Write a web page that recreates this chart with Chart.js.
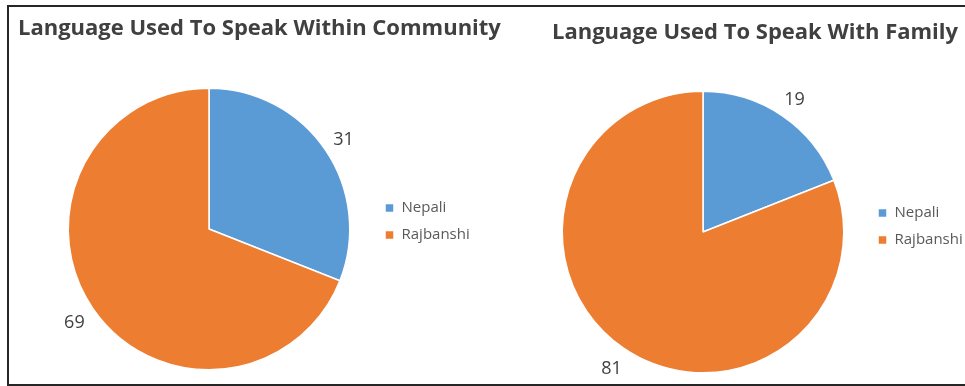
<!DOCTYPE html>
<html>
<head>
<meta charset="utf-8">
<script src="https://cdn.jsdelivr.net/npm/chart.js@4/dist/chart.umd.min.js"></script>
<style>
  html, body { margin: 0; padding: 0; background: #fff; overflow: hidden; }
  body { width: 965px; height: 386px; position: relative; font-family: "Open Sans", "DejaVu Sans", sans-serif; }
  canvas { position: absolute; top: 0; }
  #communityChart { left: 0; }
  #familyChart { left: 520px; }
  .chart-title {
    position: absolute; margin: 0; white-space: nowrap;
    font-size: 22px; line-height: 22px; font-weight: bold; color: #404040;
  }
  #communityTitle { left: 18px; top: 14.5px; }
  #familyTitle { left: 552px; top: 18.8px; }
  .frame {
    position: absolute; left: 7px; top: 5px; width: 980px; height: 377px;
    border: 2px solid #262626; border-right: none; pointer-events: none;
  }
</style>
</head>
<body>
<canvas id="communityChart" width="520" height="386"></canvas>
<canvas id="familyChart" width="460" height="386"></canvas>
<h2 class="chart-title" id="communityTitle"></h2>
<h2 class="chart-title" id="familyTitle"></h2>
<div class="frame"></div>
<script>
// survey answers (percent of respondents)
const languages = ['Nepali', 'Rajbanshi'];
const communityValues = [31, 69];
const familyValues = [19, 81];
const communityTitle = 'Language Used To Speak Within Community';
const familyTitle = 'Language Used To Speak With Family';

const sliceColors = ['#5b9bd5', '#ed7d31'];
const FONT = '"Open Sans", "DejaVu Sans", sans-serif';

document.getElementById('communityTitle').textContent = communityTitle;
document.getElementById('familyTitle').textContent = familyTitle;

// value labels just outside each slice, Excel "outside end" style
const outsideLabels = {
  id: 'outsideLabels',
  afterDatasetsDraw(chart, args, opts) {
    const { ctx } = chart;
    const meta = chart.getDatasetMeta(0);
    const values = chart.data.datasets[0].data;
    ctx.save();
    ctx.font = `${opts.size}px ${FONT}`;
    ctx.fillStyle = opts.color;
    ctx.textAlign = 'center';
    ctx.textBaseline = 'alphabetic';
    meta.data.forEach((arc, i) => {
      const { x, y, startAngle, endAngle, outerRadius } =
        arc.getProps(['x', 'y', 'startAngle', 'endAngle', 'outerRadius'], true);
      const mid = (startAngle + endAngle) / 2;
      const r = outerRadius + opts.offset;
      // baseline a little below the anchor so the digits sit centred on it
      ctx.fillText(String(values[i]), x + Math.cos(mid) * r, y + Math.sin(mid) * r + opts.size * 0.42);
    });
    ctx.restore();
  },
};

function createPie(canvasId, values, box) {
  const ctx = document.getElementById(canvasId)?.getContext('2d');
  if (!ctx) return;

  return new Chart(ctx, {
    type: 'pie',
    data: {
      labels: languages,
      datasets: [{
        data: values,
        backgroundColor: sliceColors,
        borderColor: '#ffffff',
        borderWidth: 1.5,
      }],
    },
    options: {
      responsive: false,
      animation: false,
      events: [],
      layout: { padding: box.padding },
      plugins: {
        title: { display: false },
        legend: {
          position: 'right',
          align: 'start',
          fullSize: false,
          maxWidth: 100,
          // empty title only pushes the entries down beside the middle of the pie
          title: { display: true, text: '', font: { size: 10, lineHeight: 1 }, padding: { top: box.legendOffset - 10, bottom: 0 } },
          labels: {
            boxWidth: 9,
            boxHeight: 9,
            padding: 12,
            color: '#595959',
            font: { family: FONT, size: 15 },
          },
        },
        tooltip: { enabled: false },
        outsideLabels: { size: 18, color: '#404040', offset: 22 },
      },
    },
    plugins: [outsideLabels],
  });
}

createPie('communityChart', communityValues, {
  padding: { left: 45, right: 47, top: 87.5, bottom: 15.5 },
  legendOffset: 101,
});

createPie('familyChart', familyValues, {
  padding: { left: 20, right: 14, top: 90.5, bottom: 12.5 },
  legendOffset: 103,
});
</script>
</body>
</html>
